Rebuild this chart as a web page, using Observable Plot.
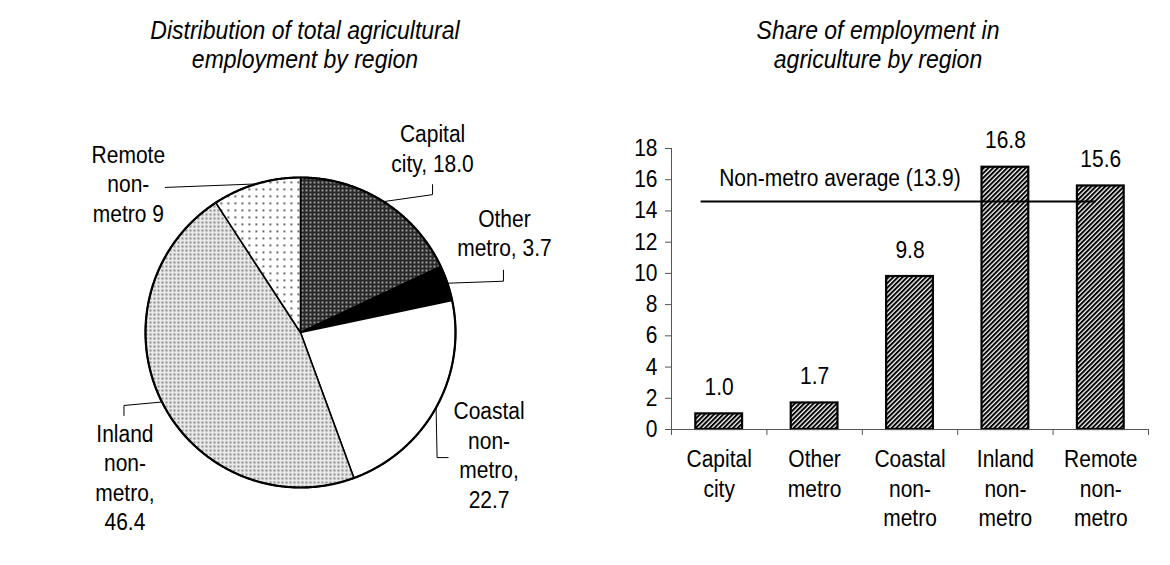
<!DOCTYPE html>
<html>
<head>
<meta charset="utf-8">
<script src="https://cdn.jsdelivr.net/npm/d3@7"></script>
<script src="https://cdn.jsdelivr.net/npm/@observablehq/plot@0.6"></script>
<style>
  body { margin: 0; background: #fff; width: 1170px; height: 565px; overflow: hidden; font-family: "Liberation Sans", Arial, sans-serif; }
  #wrap { position: relative; width: 1170px; height: 565px; }
  .title { position: absolute; text-align: center; font-style: italic; font-size: 23px; line-height: 26px; color: #000;
           transform: scaleY(1.1); transform-origin: top; white-space: nowrap; }
</style>
</head>
<body>
<svg width="0" height="0" style="position:absolute">
  <defs>
    <pattern id="pCap" width="4" height="4" patternUnits="userSpaceOnUse">
      <rect width="4" height="4" fill="#282828"/><rect x="1" y="1" width="2" height="2" fill="#9a9a9a"/>
    </pattern>
    <pattern id="pInl" width="4" height="4" patternUnits="userSpaceOnUse">
      <rect width="4" height="4" fill="#e9e9e9"/><rect x="1" y="1" width="2" height="2" fill="#8e8e8e"/>
    </pattern>
    <pattern id="pRem" width="7" height="7" patternUnits="userSpaceOnUse">
      <rect width="7" height="7" fill="#fff"/><rect x="3" y="3" width="1.7" height="1.7" fill="#333"/>
    </pattern>
    <pattern id="pHatch" width="3.3" height="3.3" patternUnits="userSpaceOnUse" patternTransform="rotate(45)">
      <rect width="3.3" height="3.3" fill="#fff"/><rect width="2" height="3.3" fill="#000"/>
    </pattern>
  </defs>
</svg>
<div id="wrap">
  <div class="title" style="left:105px;top:16px;width:400px">Distribution of total agricultural<br>employment by region</div>
  <div class="title" style="left:678px;top:16px;width:400px">Share of employment in<br>agriculture by region</div>
  <div id="pie" style="position:absolute;left:0;top:80px"></div>
  <div id="bar" style="position:absolute;left:585px;top:80px"></div>
</div>
<script>
// ---------- data ----------
const regions = ["Capital city", "Other metro", "Coastal non-metro", "Inland non-metro", "Remote non-metro"];
const pieShares = [18.0, 3.7, 22.7, 46.4, 9.2];
const pieLabels = ["Capital\ncity, 18.0", "Other\nmetro, 3.7", "Coastal\nnon-\nmetro,\n22.7", "Inland\nnon-\nmetro,\n46.4", "Remote\nnon-\nmetro 9"];
const barValues = [1.0, 1.7, 9.8, 16.8, 15.6];
const barValueLabels = ["1.0", "1.7", "9.8", "16.8", "15.6"];
const barCategoryLabels = ["Capital\ncity", "Other\nmetro", "Coastal\nnon-\nmetro", "Inland\nnon-\nmetro", "Remote\nnon-\nmetro"];
const yTicks = [0, 2, 4, 6, 8, 10, 12, 14, 16, 18];
const avgLabel = "Non-metro average (13.9)";
const avgLineValue = 14.6;

// ---------- styles / layout (not data) ----------
const sliceFills = ["url(#pCap)", "#000", "#fff", "url(#pInl)", "url(#pRem)"];
// pixel offsets relative to the slice's mid-angle point on the rim
const labelOffsets = [[49, -30], [57, -27], [53, 100], [-37, 128], [-128, 38]];
const leaderOffsets = [
  [[0, 0], [49, -7], [49, -17]],
  [[0, 0], [56, -2], [56, -13]],
  [[0, 0], [1, 50], [12, 50]],
  [[0, 0], [-38, 3.5], [-38, 13.5]],
  [[0, 0], [-91, 3.5]]
];
const avgLineExtent = [0.31, 4.45]; // in category units along the x axis
const FONT = 21, STRETCH = 1.12, LH = 1.254;

function stretchText(svg) {
  svg.querySelectorAll("text").forEach(t => {
    const tr = t.getAttribute("transform") || "";
    t.setAttribute("transform", tr + ` scale(1,${STRETCH})`);
  });
  return svg;
}

// ---------- pie ----------
const pieW = 585, pieH = 485, mL = 145, mR = 130, mT = 97, mB = 78;
const R = (pieW - mL - mR) / 2; // px per data unit
const arcs = d3.pie().sort(null).startAngle(0).endAngle(2 * Math.PI)(pieShares);
const step = Math.PI / 360;
const slices = arcs.map((a, i) => {
  const pts = [{x: 0, y: 0}];
  const n = Math.ceil((a.endAngle - a.startAngle) / step);
  for (let k = 0; k <= n; k++) {
    const t = a.startAngle + (a.endAngle - a.startAngle) * k / n;
    pts.push({x: Math.sin(t), y: Math.cos(t)});
  }
  pts.push({x: 0, y: 0});
  return pts;
});
const rim = d3.range(0, 721).map(k => ({x: Math.sin(k * step), y: Math.cos(k * step)}));
const mids = arcs.map(a => { const m = (a.startAngle + a.endAngle) / 2; return {x: Math.sin(m), y: Math.cos(m)}; });
const labelData = regions.map((r, i) => ({
  text: pieLabels[i],
  x: mids[i].x + labelOffsets[i][0] / R,
  y: mids[i].y - labelOffsets[i][1] / R
}));
const leaders = regions.map((r, i) => leaderOffsets[i].map(([dx, dy]) => ({x: mids[i].x + dx / R, y: mids[i].y - dy / R})));

const pie = Plot.plot({
  width: pieW, height: pieH,
  marginLeft: mL, marginRight: mR, marginTop: mT, marginBottom: mB,
  x: {domain: [-1, 1], axis: null},
  y: {domain: [-1, 1], axis: null},
  style: {fontFamily: "'Liberation Sans', Arial, sans-serif", fontSize: FONT + "px", color: "#000", background: "transparent", overflow: "visible"},
  marks: [
    ...slices.map((pts, i) => Plot.line(pts, {x: "x", y: "y", fill: sliceFills[i], stroke: "#000", strokeWidth: 1.6, strokeLinejoin: "round"})),
    Plot.line(rim, {x: "x", y: "y", stroke: "#000", strokeWidth: 2.2}),
    ...leaders.map(pts => Plot.line(pts, {x: "x", y: "y", stroke: "#000", strokeWidth: 1})),
    Plot.text(labelData, {x: "x", y: "y", text: "text", textAnchor: "middle", lineAnchor: "bottom", lineHeight: LH, fontSize: FONT, fill: "#000"})
  ]
});
document.getElementById("pie").appendChild(stretchText(pie));

// ---------- bars ----------
const bars = barValues.map((v, i) => ({i, v, label: barValueLabels[i], cat: barCategoryLabels[i]}));
const bar = Plot.plot({
  width: 585, height: 485,
  marginLeft: 86, marginRight: 22, marginTop: 68, marginBottom: 136,
  x: {domain: [0, regions.length], axis: null},
  y: {domain: [0, 18], axis: null},
  style: {fontFamily: "'Liberation Sans', Arial, sans-serif", fontSize: FONT + "px", color: "#000", background: "transparent", overflow: "visible"},
  marks: [
    Plot.rectY(bars, {x1: d => d.i + 0.255, x2: d => d.i + 0.745, y1: 0, y2: "v", fill: "url(#pHatch)", stroke: "#000", strokeWidth: 2.2}),
    Plot.ruleX([0], {y1: 0, y2: 18, stroke: "#555", strokeWidth: 1}),
    Plot.ruleY([0], {x1: 0, x2: regions.length, stroke: "#555", strokeWidth: 1}),
    Plot.axisY({ticks: yTicks, tickSize: 6, tickPadding: 8, fontSize: FONT, stroke: "#555", label: null}),
    Plot.axisX({ticks: d3.range(0, regions.length + 1), tickSize: 6, tickFormat: () => "", stroke: "#555", label: null}),
    Plot.text(bars, {x: d => d.i + 0.5, y: 0, text: "cat", textAnchor: "middle", lineAnchor: "top", lineHeight: LH, dy: 17, fontSize: FONT, fill: "#000"}),
    Plot.text(bars, {x: d => d.i + 0.5, y: "v", text: "label", textAnchor: "middle", lineAnchor: "bottom", dy: -19, fontSize: FONT, fill: "#000"}),
    Plot.ruleY([avgLineValue], {x1: avgLineExtent[0], x2: avgLineExtent[1], stroke: "#000", strokeWidth: 2}),
    Plot.text([avgLabel], {x: 0.5, y: avgLineValue, text: d => d, textAnchor: "start", lineAnchor: "bottom", dy: -16, fontSize: FONT, fill: "#000"})
  ]
});
document.getElementById("bar").appendChild(stretchText(bar));
</script>
</body>
</html>
